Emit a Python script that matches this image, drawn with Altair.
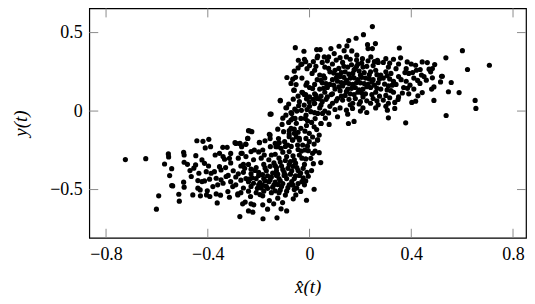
import altair as alt
import pandas as pd

left_outer = [(-0.724,-0.309),(-0.644,-0.303),(-0.555,-0.273),(-0.554,-0.292),(-0.570,-0.337),(-0.542,-0.367),(-0.550,-0.411),(-0.542,-0.474),(-0.538,-0.477),(-0.593,-0.540),(-0.602,-0.625),(-0.514,-0.530),(-0.512,-0.574),(-0.495,-0.453),(-0.493,-0.485),(-0.495,-0.263),(-0.493,-0.280),(-0.493,-0.326),(-0.480,-0.339),(-0.470,-0.379),(-0.465,-0.417),(-0.459,-0.534),(-0.447,-0.284),(-0.443,-0.189),(-0.419,-0.193),(-0.396,-0.180),(-0.410,-0.235),(-0.389,-0.227),(-0.448,-0.343),(-0.455,-0.364),(-0.423,-0.311),(-0.435,-0.396),(-0.439,-0.443),(-0.423,-0.449),(-0.413,-0.445),(-0.439,-0.491),(-0.430,-0.502),(-0.429,-0.540),(-0.405,-0.534),(-0.392,-0.544),(-0.402,-0.508),(-0.363,-0.585),(-0.406,-0.386),(-0.387,-0.396),(-0.393,-0.434),(-0.371,-0.280),(-0.354,-0.269),(-0.341,-0.231),(-0.324,-0.231),(-0.413,-0.333),(-0.397,-0.350),(-0.374,-0.386),(-0.354,-0.354),(-0.334,-0.307),(-0.315,-0.301),(-0.348,-0.375),(-0.367,-0.428),(-0.348,-0.438),(-0.380,-0.481),(-0.361,-0.470),(-0.367,-0.528),(-0.350,-0.536),(-0.328,-0.417),(-0.321,-0.513),(-0.315,-0.549),(-0.302,-0.481),(-0.282,-0.528),(-0.293,-0.201),(-0.274,-0.205),(-0.251,-0.210),(-0.243,-0.174),(-0.240,-0.125),(-0.227,-0.131),(-0.265,-0.269),(-0.197,-0.201)]

left_edge = [(-0.234,-0.127),(-0.158,-0.148),(-0.243,-0.174),(-0.289,-0.206),(-0.273,-0.208),(-0.250,-0.212),(-0.197,-0.199),(-0.175,-0.189),(-0.102,-0.131),(-0.080,-0.146),(-0.054,-0.142),(-0.040,-0.174),(-0.067,-0.184),(-0.119,-0.201),(-0.154,-0.227),(-0.184,-0.248),(-0.047,-0.216),(0.031,-0.184),(0.018,-0.210),(0.038,-0.265),(-0.005,-0.252),(-0.018,-0.248),(0.012,-0.269),(0.005,-0.301),(0.044,-0.328),(0.008,-0.379),(0.018,-0.498),(-0.012,-0.568),(-0.054,-0.534),(-0.064,-0.559),(-0.090,-0.636),(-0.112,-0.623),(-0.128,-0.680),(-0.183,-0.686),(-0.274,-0.672),(-0.165,-0.625),(-0.223,-0.644),(-0.240,-0.636),(-0.219,-0.597),(-0.230,-0.591),(-0.263,-0.591),(-0.253,-0.580),(-0.184,-0.597),(-0.141,-0.591),(-0.106,-0.583),(-0.125,-0.555),(-0.158,-0.570),(-0.282,-0.534),(-0.232,-0.544),(-0.184,-0.540),(-0.267,-0.227),(-0.230,-0.258),(-0.217,-0.248),(-0.269,-0.269),(-0.178,-0.280),(-0.125,-0.227),(-0.112,-0.237),(-0.080,-0.258),(-0.040,-0.280)]

left_dense = [(-0.34,-0.29),(-0.31,-0.33),(-0.28,-0.30),(-0.25,-0.29),(-0.22,-0.31),(-0.19,-0.30),(-0.15,-0.28),(-0.12,-0.30),(-0.09,-0.29),(-0.06,-0.31),(-0.03,-0.30),
(-0.33,-0.36),(-0.30,-0.38),(-0.27,-0.35),(-0.24,-0.34),(-0.21,-0.36),(-0.18,-0.34),(-0.14,-0.33),(-0.11,-0.35),(-0.08,-0.34),(-0.05,-0.36),(-0.02,-0.34),
(-0.32,-0.41),(-0.29,-0.42),(-0.26,-0.39),(-0.23,-0.40),(-0.20,-0.39),(-0.17,-0.38),(-0.13,-0.38),(-0.10,-0.39),(-0.07,-0.38),(-0.04,-0.41),(-0.01,-0.39),
(-0.34,-0.46),(-0.31,-0.45),(-0.27,-0.44),(-0.24,-0.45),(-0.21,-0.43),(-0.18,-0.43),(-0.15,-0.42),(-0.12,-0.43),(-0.09,-0.43),(-0.06,-0.43),(-0.03,-0.45),
(-0.29,-0.47),(-0.26,-0.49),(-0.23,-0.48),(-0.20,-0.47),(-0.17,-0.48),(-0.14,-0.47),(-0.11,-0.48),(-0.08,-0.47),(-0.05,-0.49),(-0.02,-0.47),
(-0.27,-0.52),(-0.24,-0.51),(-0.21,-0.52),(-0.18,-0.51),(-0.15,-0.52),(-0.12,-0.52),(-0.09,-0.51),(-0.06,-0.50),
(-0.31,-0.27),(-0.20,-0.26),(-0.16,-0.31),(-0.13,-0.36),(-0.10,-0.41),(-0.07,-0.45),(-0.28,-0.40),(-0.25,-0.43),(-0.22,-0.46),(-0.19,-0.49),(-0.16,-0.45),(-0.13,-0.41),(-0.26,-0.34),(-0.23,-0.37),(-0.20,-0.41)]

left_core = [(-0.255,-0.365),(-0.215,-0.378),(-0.175,-0.362),(-0.155,-0.352),(-0.135,-0.348),(-0.115,-0.325),(-0.095,-0.315),(-0.075,-0.322),(-0.055,-0.332),
(-0.225,-0.425),(-0.185,-0.405),(-0.165,-0.412),(-0.145,-0.395),(-0.125,-0.402),(-0.105,-0.372),(-0.085,-0.365),(-0.065,-0.352),(-0.045,-0.378),(-0.025,-0.365),
(-0.235,-0.432),(-0.195,-0.455),(-0.175,-0.445),(-0.155,-0.438),(-0.135,-0.452),(-0.115,-0.445),(-0.095,-0.408),(-0.075,-0.402),(-0.055,-0.412),(-0.035,-0.395),
(-0.205,-0.492),(-0.185,-0.472),(-0.165,-0.492),(-0.145,-0.485),(-0.125,-0.468),(-0.105,-0.462),(-0.085,-0.488),(-0.065,-0.472),(-0.045,-0.462),(-0.025,-0.425),
(-0.195,-0.532),(-0.135,-0.508),(-0.115,-0.502),(-0.095,-0.535),(-0.035,-0.512),(-0.015,-0.445),
(-0.135,-0.275),(-0.105,-0.262),(-0.065,-0.285),(-0.015,-0.305),(0.015,-0.335),(-0.005,-0.415),(-0.045,-0.245),(-0.095,-0.225),(-0.135,-0.205),(-0.155,-0.175)]

middle = [(-0.060,0.133),(-0.115,0.068),(-0.064,0.076),(-0.090,0.021),(-0.151,-0.019),(-0.073,-0.009),(-0.043,0.034),(-0.021,0.038),(-0.001,0.059),(0.018,0.048),(0.045,0.038),(-0.027,0.118),(0.012,0.144),(0.025,0.101),(-0.014,-0.026),(0.005,-0.004),(0.032,-0.015),(0.051,-0.015),(-0.066,-0.047),(-0.082,-0.072),(-0.034,-0.047),(-0.017,-0.047),(0.045,-0.079),(0.018,-0.100),(-0.073,-0.110),(-0.060,-0.115),(-0.034,-0.110),(-0.080,-0.125),(-0.155,-0.153),(0.038,-0.153),(-0.060,-0.142),(-0.001,-0.142),(0.032,-0.185),(-0.001,-0.195),(-0.066,-0.185),(-0.080,-0.163),(-0.086,-0.216),(-0.132,-0.227),(-0.040,-0.185),(-0.027,-0.216),(-0.014,-0.174)]

bridge = [(-0.108,-0.085),(-0.122,-0.175),(-0.098,-0.195),(-0.052,-0.078),(-0.045,-0.135),(-0.012,-0.092),(0.008,-0.072),(0.028,-0.118),(0.012,-0.165),(-0.018,-0.128),(-0.052,-0.165),(-0.072,-0.225),(-0.032,-0.255),(-0.008,-0.222),(0.022,-0.255),(-0.058,0.012),(-0.032,0.005),(-0.008,-0.062),(0.022,-0.048),(0.062,-0.045),(0.075,-0.012),(-0.045,0.095),(-0.012,0.078),(0.038,0.078),(-0.082,0.045),(-0.105,-0.045),(-0.125,-0.115)]

right_edge = [(0.247,0.538),(0.212,0.487),(0.183,0.464),(0.154,0.449),(0.116,0.413),(0.147,0.415),(-0.056,0.404),(-0.022,0.381),(0.028,0.392),(0.042,0.392),(0.084,0.398),(0.228,0.423),(0.259,0.430),(0.230,0.398),(0.247,0.398),(0.353,0.402),(0.136,0.385),(0.166,0.383),(0.097,0.366),(0.032,0.351),(0.058,0.345),(-0.044,0.324),(0.186,0.356),(0.208,0.334),(0.241,0.345),(0.267,0.324),(0.300,0.334),(0.358,0.339),(0.384,0.313),(0.443,0.313),(0.463,0.309),(0.492,0.296),(0.483,0.271),(0.417,0.292),(0.470,0.267),(0.476,0.250),(0.519,0.222),(0.515,0.186),(0.483,0.212),(0.459,0.197),(0.489,0.154),(0.480,0.140),(0.434,0.176),(0.489,0.068),(0.443,0.118),(0.417,0.063),(0.402,0.055),(0.426,0.097),(0.348,0.074),(0.335,0.017),(0.306,0.006),(0.310,-0.043),(0.378,-0.075),(0.225,-0.009),(0.169,0.017),(0.145,0.006),(0.110,-0.036),(0.175,-0.066),(0.153,-0.079),(0.077,-0.085),(0.045,-0.079),(-0.115,0.065),(-0.093,0.021),(-0.155,-0.020),(-0.093,-0.026),(-0.070,-0.015),(-0.073,-0.057),(-0.057,-0.047),(-0.089,0.214),(-0.066,0.203),(-0.060,0.254),(-0.073,0.176),(-0.053,0.169),(-0.062,0.133),(-0.021,0.106),(-0.014,0.165),(-0.034,0.296),(0.601,0.385),(0.536,0.339),(0.707,0.292),(0.621,0.265),(0.522,0.222),(0.557,0.182),(0.546,0.123),(0.588,0.118),(0.651,0.068),(0.654,0.017),(0.537,-0.028)]

right_dense = [(-0.02,0.33),(0.03,0.34),(0.07,0.32),(0.12,0.34),(0.16,0.33),(0.23,0.32),(0.29,0.31),(0.33,0.33),
(-0.03,0.30),(0.00,0.29),(0.05,0.31),(0.09,0.30),(0.13,0.31),(0.19,0.30),(0.25,0.29),(0.27,0.31),(0.31,0.28),(0.35,0.30),(0.40,0.30),
(-0.01,0.27),(0.02,0.26),(0.06,0.28),(0.10,0.26),(0.15,0.28),(0.18,0.27),(0.21,0.28),(0.26,0.26),(0.30,0.25),(0.34,0.27),(0.38,0.27),(0.42,0.26),
(0.01,0.24),(0.04,0.23),(0.08,0.25),(0.11,0.23),(0.14,0.25),(0.17,0.24),(0.20,0.23),(0.24,0.25),(0.28,0.23),(0.32,0.24),(0.35,0.22),(0.39,0.24),(0.44,0.23),
(-0.03,0.21),(0.03,0.20),(0.06,0.21),(0.09,0.20),(0.12,0.22),(0.16,0.21),(0.19,0.20),(0.22,0.21),(0.25,0.20),(0.29,0.21),(0.33,0.19),(0.36,0.20),(0.41,0.21),(0.45,0.22),
(-0.01,0.18),(0.02,0.17),(0.05,0.18),(0.08,0.17),(0.11,0.19),(0.14,0.18),(0.17,0.17),(0.20,0.18),(0.23,0.17),(0.27,0.18),(0.31,0.16),(0.34,0.17),(0.38,0.19),
(0.00,0.15),(0.04,0.14),(0.07,0.15),(0.10,0.14),(0.13,0.16),(0.15,0.14),(0.18,0.15),(0.21,0.14),(0.24,0.15),(0.28,0.14),(0.32,0.13),(0.37,0.15),(0.41,0.14),
(-0.03,0.12),(0.02,0.11),(0.06,0.12),(0.09,0.11),(0.12,0.13),(0.16,0.11),(0.19,0.12),(0.22,0.11),(0.26,0.12),(0.30,0.10),(0.33,0.12),(0.39,0.11),
(0.00,0.09),(0.03,0.08),(0.07,0.09),(0.11,0.08),(0.14,0.10),(0.18,0.08),(0.21,0.09),(0.25,0.08),(0.29,0.07),(0.35,0.09),
(-0.04,0.06),(0.02,0.05),(0.05,0.06),(0.09,0.05),(0.13,0.07),(0.17,0.05),(0.20,0.06),(0.24,0.05),(0.27,0.04),(0.31,0.05),
(0.00,0.03),(0.04,0.02),(0.08,0.03),(0.12,0.02),(0.16,0.04),(0.21,0.02),(0.26,0.02),(0.30,0.03),
(-0.05,0.00),(-0.01,0.01),(0.02,-0.01),(0.06,0.00),(0.10,0.01),(0.15,-0.02),(0.20,0.00)]

right_core = [(0.025,0.285),(0.075,0.272),(0.115,0.272),(0.135,0.285),(0.165,0.295),(0.185,0.285),(0.205,0.305),(0.225,0.285),
(0.055,0.225),(0.095,0.242),(0.125,0.245),(0.155,0.235),(0.175,0.262),(0.195,0.255),(0.215,0.245),(0.235,0.232),(0.265,0.232),(0.305,0.225),
(0.045,0.195),(0.105,0.212),(0.135,0.215),(0.145,0.195),(0.175,0.212),(0.205,0.215),(0.235,0.205),(0.275,0.205),(0.315,0.205),
(0.065,0.175),(0.095,0.165),(0.125,0.182),(0.155,0.175),(0.185,0.182),(0.215,0.175),(0.245,0.185),(0.255,0.165),(0.295,0.172),(0.325,0.165),
(0.055,0.145),(0.115,0.155),(0.145,0.125),(0.165,0.145),(0.195,0.135),(0.225,0.155),(0.265,0.145),(0.305,0.135),(0.385,0.145),
(-0.015,0.105),(0.045,0.095),(0.085,0.105),(0.125,0.095),(0.175,0.105),(0.205,0.115),(0.245,0.105),(0.275,0.095),(0.315,0.085),(0.365,0.115),
(0.015,0.075),(0.065,0.075),(0.105,0.065),(0.155,0.075),(0.195,0.045),(0.225,0.065),(0.265,0.065),(0.335,0.055),
(-0.055,0.215),(-0.045,0.275),(-0.015,0.315),(0.015,0.315),(0.075,0.345),(0.105,0.325),(0.145,0.345),(0.185,0.325),(0.255,0.315),(0.315,0.305),(0.375,0.245),(0.405,0.245),(0.435,0.265),(0.425,0.195),(0.395,0.165)]

x_ticks = [-0.8, -0.4, 0, 0.4, 0.8]
y_ticks = [-0.5, 0, 0.5]
x_domain = [-0.866, 0.851]
y_domain = [-0.807, 0.654]

all_points = left_outer + left_edge + left_dense + left_core + middle + bridge + right_edge + right_dense + right_core
points = pd.DataFrame(all_points, columns=["x", "y"])
xt = pd.DataFrame({"v": x_ticks})
yt = pd.DataFrame({"v": y_ticks})

W, H = 438, 230
TICK = 9
label_expr = "datum.value == 0 ? '0' : replace(format(datum.value, '.1f'), '-', '\u2212')"
xs = alt.Scale(domain=x_domain, nice=False, zero=False)
ys = alt.Scale(domain=y_domain, nice=False, zero=False)
tick_color = "#8c8c8c"
serif = "Liberation Serif"

dots = alt.Chart(points).mark_circle(size=27, color="black", opacity=1).encode(
    x=alt.X("x:Q", scale=xs, axis=alt.Axis(
        title="x\u0302(t)", values=x_ticks, labelExpr=label_expr, grid=False, ticks=False,
        domain=False, labelPadding=8, labelFontSize=18, labelFont=serif,
        labelColor="black", titleFont=serif, titleFontStyle="italic",
        titleFontWeight="normal", titleFontSize=19, titleColor="black", titlePadding=14,
        labelFlush=False)),
    y=alt.Y("y:Q", scale=ys, axis=alt.Axis(
        title="y(t)", values=y_ticks, labelExpr=label_expr, grid=False, ticks=False,
        domain=False, labelPadding=7, labelFontSize=18, labelFont=serif,
        labelColor="black", titleFont=serif, titleFontStyle="italic",
        titleFontWeight="normal", titleFontSize=19, titleColor="black", titlePadding=19)),
)

def vtick(y0, y1):
    return alt.Chart(xt).mark_rule(color=tick_color, strokeWidth=1).encode(
        x=alt.X("v:Q", scale=xs), y=alt.value(y0), y2=alt.value(y1))

def htick(x0, x1):
    return alt.Chart(yt).mark_rule(color=tick_color, strokeWidth=1).encode(
        y=alt.Y("v:Q", scale=ys), x=alt.value(x0), x2=alt.value(x1))

chart = alt.layer(
    vtick(H - TICK, H), vtick(0, TICK), htick(0, TICK), htick(W - TICK, W), dots
).properties(
    width=W, height=H,
    padding={"left": 81.5, "top": 0, "right": 1, "bottom": 58},
    autosize=alt.AutoSizeParams(type="none"),
).configure_view(stroke="black", strokeWidth=1.2)

chart.save("out.html", embed_options={"renderer": "svg", "actions": False})
